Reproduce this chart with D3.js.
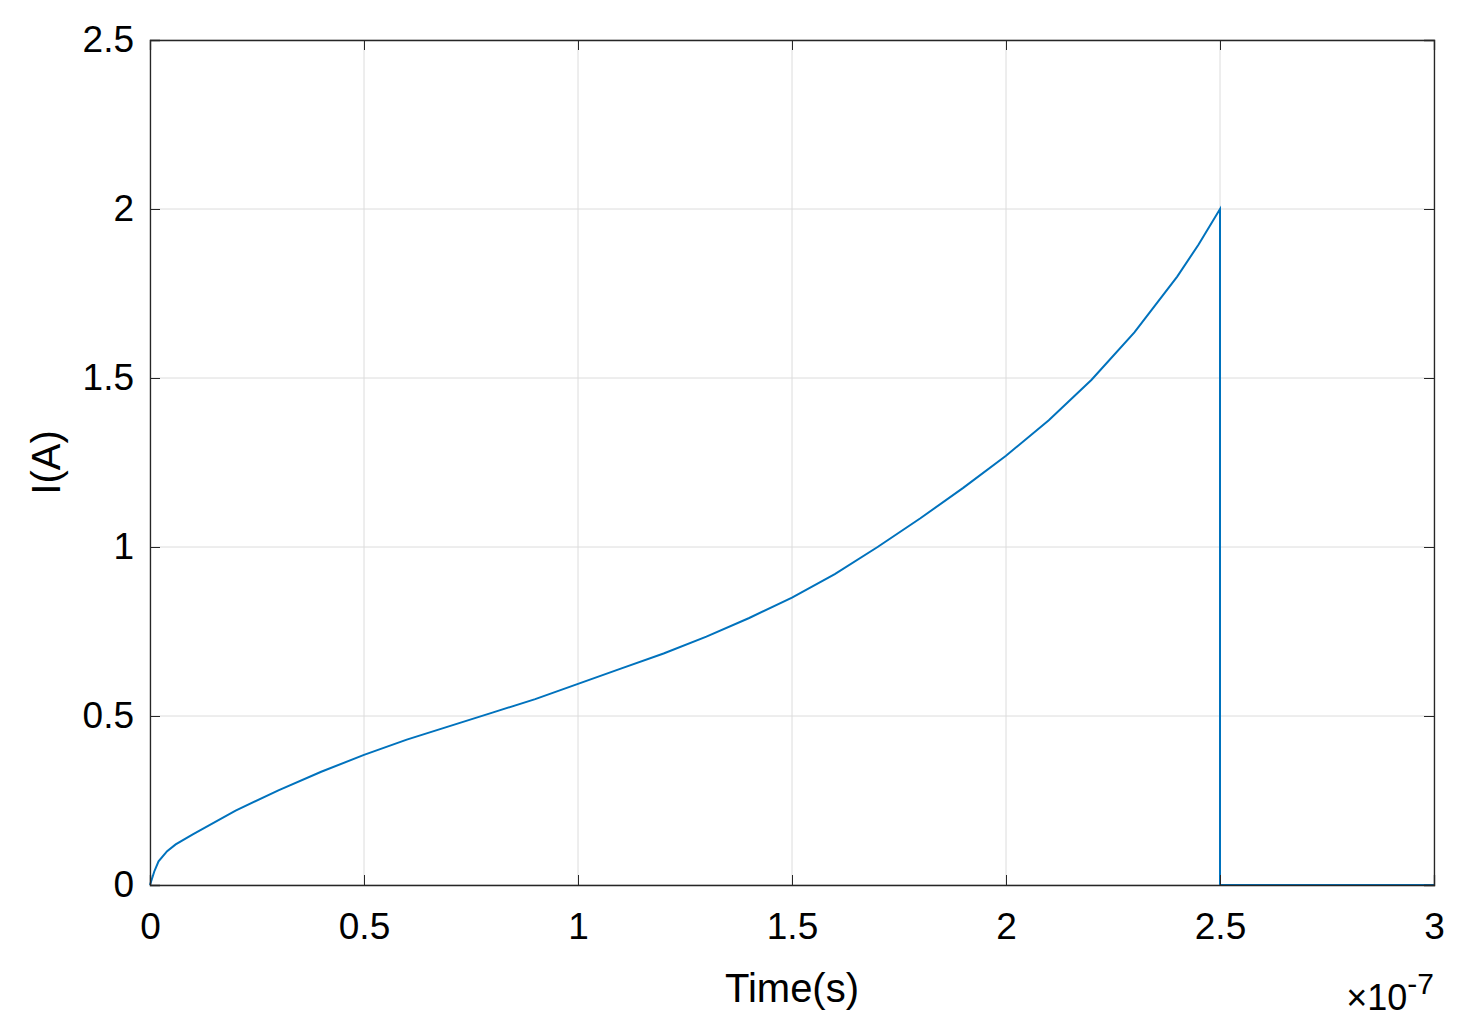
<!DOCTYPE html>
<html><head><meta charset="utf-8">
<script src="https://cdn.jsdelivr.net/npm/d3@7"></script>
<style>body{margin:0;background:#fff}</style>
</head><body>
<script>
// time in units of 1e-7 s, current in A
var timeVals = [0, 0.01, 0.02, 0.04, 0.06, 0.1, 0.2, 0.3, 0.4, 0.5, 0.6, 0.7, 0.8, 0.9, 1.0, 1.1, 1.2, 1.3, 1.4, 1.5, 1.6, 1.7, 1.8, 1.9, 2.0, 2.1, 2.2, 2.3, 2.4, 2.45, 2.5, 2.5, 3.0];
var currentVals = [0, 0.04, 0.07, 0.1, 0.12, 0.15, 0.22, 0.28, 0.335, 0.385, 0.43, 0.47, 0.51, 0.55, 0.595, 0.64, 0.685, 0.735, 0.79, 0.85, 0.92, 1.0, 1.085, 1.175, 1.27, 1.375, 1.495, 1.635, 1.8, 1.895, 2.0, 0, 0];
var xTicks = [0, 0.5, 1, 1.5, 2, 2.5, 3];
var yTicks = [0, 0.5, 1, 1.5, 2, 2.5];

var margins = {top:40, left:150, right:41, bottom:150};
var width = 1475, height = 1035;
var svg = d3.select("body").append("svg").attr("width",width).attr("height",height)
  .style("font-family","Arial, 'Liberation Sans', sans-serif");
var w = width - margins.left - margins.right;
var h = height - margins.top - margins.bottom;

var xScale = d3.scaleLinear().domain([0,3]).range([0,w]);
var yScale = d3.scaleLinear().domain([0,2.5]).range([h,0]);

var g = svg.append("g").attr("transform","translate("+margins.left+","+margins.top+")");

// grid
g.selectAll(".vg").data(xTicks).enter().append("line")
  .attr("x1",function(d){return xScale(d);}).attr("x2",function(d){return xScale(d);})
  .attr("y1",0).attr("y2",h).attr("stroke","#dcdcdc");
g.selectAll(".hg").data(yTicks).enter().append("line")
  .attr("y1",function(d){return yScale(d);}).attr("y2",function(d){return yScale(d);})
  .attr("x1",0).attr("x2",w).attr("stroke","#dcdcdc");

var pts = timeVals.map(function(t,i){return [t,currentVals[i]];});
g.append("path").datum(pts)
  .attr("d", d3.line().x(function(d){return xScale(d[0]);}).y(function(d){return yScale(d[1]);}))
  .attr("fill","none").attr("stroke","#0072bd").attr("stroke-width",2);

var xAxis = d3.axisBottom(xScale).tickValues(xTicks).tickSize(-10).tickPadding(28).tickFormat(d3.format("~g"));
var yAxis = d3.axisLeft(yScale).tickValues(yTicks).tickSize(-10).tickPadding(16).tickFormat(d3.format("~g"));
var xa = g.append("g").attr("transform","translate(0,"+h+")").call(xAxis);
var ya = g.append("g").call(yAxis);
g.append("g").attr("transform","translate("+w+",0)").call(d3.axisRight(yScale).tickValues(yTicks).tickSize(-10).tickFormat(""));
g.append("g").call(d3.axisTop(xScale).tickValues(xTicks).tickSize(-10).tickFormat(""));
g.selectAll(".domain").attr("stroke","#262626").attr("stroke-width",1.3);
g.selectAll(".tick line").attr("stroke","#262626");
[xa,ya].forEach(function(a){a.selectAll("text").attr("font-size",37).attr("fill","#000");});

svg.append("text").attr("x",margins.left+w/2).attr("y",1002).attr("text-anchor","middle")
  .attr("font-size",40).text("Time(s)");
svg.append("text").attr("transform","translate(60,"+(margins.top+h/2)+") rotate(-90)")
  .attr("text-anchor","middle").attr("font-size",40).text("I(A)");
var ex = svg.append("text").attr("x",1434).attr("y",1010).attr("text-anchor","end").attr("font-size",36);
ex.append("tspan").text("\u00d710");
ex.append("tspan").attr("dy",-16).attr("font-size",30).text("-7");
</script>
</body></html>
